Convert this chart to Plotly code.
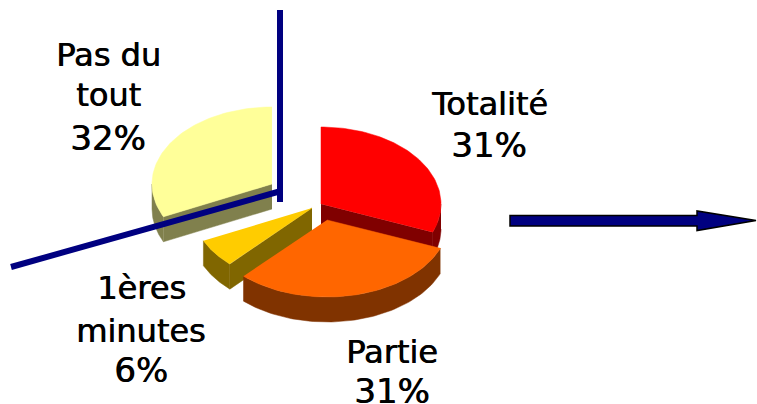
import numpy as np
import plotly.graph_objects as go

categories = ["Totalité", "Partie", "1ères minutes", "Pas du tout"]
values = [31, 31, 6, 32]
label_lines = [["Totalité"], ["Partie"], ["1ères", "minutes"], ["Pas du", "tout"]]

top_colors = ["#FF0000", "#FF6600", "#FFCC00", "#FFFF99"]
side_colors = ["#800000", "#803300", "#806600", "#80804D"]
apexes = [(321, 204), (327, 220), (312, 208), (272, 184)]
radii_x = [120, 122, 120, 120]
label_x = [489, 392, 141, 108]
label_y = [[104, 145], [352, 391], [288, 331, 370], [55, 95, 138]]

RY, DEPTH = 77, 25
FONT = dict(family="DejaVu Sans", size=32, color="#000000", shadow="0.7px 0 0 #000000")
PCT_FONT = dict(FONT, size=34)
NAVY = "#000080"


def arc(apex, rx, a0, a1, n=80):
    t = np.radians(np.linspace(a0, a1, n))
    return apex[0] + rx * np.sin(t), apex[1] - RY * np.cos(t)


def poly(fig, x, y, color):
    fig.add_trace(go.Scatter(x=list(x), y=list(y), mode="lines", fill="toself",
                             fillcolor=color, line=dict(color=color, width=0.5),
                             hoverinfo="skip", showlegend=False))


fig = go.Figure()
total = sum(values)
edges = np.cumsum([0] + values) / total * 360
for i in [3, 2, 0, 1]:
    a0, a1 = edges[i], edges[i + 1]
    apex = apexes[i]
    rx = radii_x[i]
    ax, ay = arc(apex, rx, a0, a1)
    # outer wall: the part of the rim facing the viewer (90 to 270 degrees)
    w0, w1 = max(a0, 90), min(a1, 270)
    if w1 > w0:
        wx, wy = arc(apex, rx, w0, w1)
        poly(fig, np.r_[wx, wx[::-1]], np.r_[wy, wy[::-1] + DEPTH], side_colors[i])
    # cut faces that can be seen
    for ang in (a0, a1):
        visible = (ang == a1 and 90 < ang < 180) or (ang == a0 and 180 < ang < 270)
        if visible:
            ex, ey = arc(apex, rx, ang, ang, 1)
            fx = [apex[0], ex[0], ex[0], apex[0]]
            fy = [apex[1], ey[0], ey[0] + DEPTH, apex[1] + DEPTH]
            poly(fig, fx, fy, side_colors[i])
    poly(fig, np.r_[apex[0], ax], np.r_[apex[1], ay], top_colors[i])

# axis lines and arrow
shapes = [
    dict(type="line", x0=281, y0=191, x1=11, y1=267, line=dict(color=NAVY, width=6)),
    dict(type="line", x0=280, y0=10, x1=280, y1=202, line=dict(color=NAVY, width=6)),
    dict(type="path",
         path="M 510 215.5 L 697 215.5 L 697 211 L 756 220.5 L 697 230.5 L 697 226 L 510 226 Z",
         fillcolor=NAVY, line=dict(color="#000000", width=1.5)),
]

annotations = []
for i, lines in enumerate(label_lines):
    texts = lines + [f"{values[i]}%"]
    for j, (t, yy) in enumerate(zip(texts, label_y[i])):
        annotations.append(dict(x=label_x[i], y=yy, text=t, showarrow=False,
                                xanchor="center", yanchor="middle",
                                font=PCT_FONT if j == len(texts) - 1 else FONT))

fig.update_layout(
    width=757, height=404, margin=dict(l=0, r=0, t=0, b=0),
    paper_bgcolor="#FFFFFF", plot_bgcolor="#FFFFFF", showlegend=False,
    xaxis=dict(range=[0, 757], visible=False, fixedrange=True),
    yaxis=dict(range=[404, 0], visible=False, fixedrange=True),
    shapes=shapes, annotations=annotations,
)
fig.write_html("out.html", config=dict(displayModeBar=False),
               post_script="document.body.style.margin='0';document.body.style.overflow='hidden';")
